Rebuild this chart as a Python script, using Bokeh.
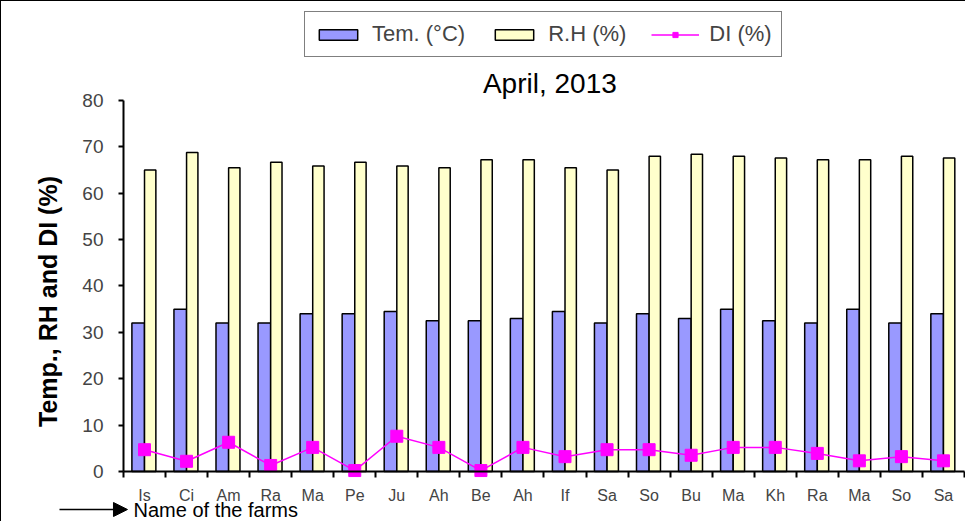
import math
from bokeh.plotting import figure
from bokeh.models import (FixedTicker, Legend, LegendItem, ColumnDataSource,
                          Arrow, NormalHead, Label, Range1d)
from bokeh.transform import dodge
from bokeh.embed import file_html
from bokeh.resources import INLINE

farms = ["Is", "Ci", "Am", "Ra", "Ma", "Pe", "Ju", "Ah", "Be", "Ah",
         "If", "Sa", "So", "Bu", "Ma", "Kh", "Ra", "Ma", "So", "Sa"]
temp = [32, 35, 32, 32, 34, 34, 34.5, 32.5, 32.5, 33,
        34.5, 32, 34, 33, 35, 32.5, 32, 35, 32, 34]
rh = [65.0, 68.8, 65.5, 66.7, 65.9, 66.7, 65.9, 65.5, 67.2, 67.2,
      65.5, 65.0, 68.0, 68.4, 68.0, 67.6, 67.2, 67.2, 68.0, 67.6]
di = [4.7, 2.2, 6.3, 1.3, 5.2, 0.2, 7.6, 5.2, 0.2, 5.2,
      3.2, 4.7, 4.7, 3.5, 5.2, 5.2, 3.9, 2.3, 3.2, 2.3]
y_ticks = [0, 10, 20, 30, 40, 50, 60, 70, 80]

pos = list(range(len(farms)))
src = ColumnDataSource(dict(x=pos, temp=temp, rh=rh, di=di))

FONT = "Liberation Sans"
W, H = 965, 521

p = figure(width=W, height=H, output_backend="svg", toolbar_location=None,
           x_range=Range1d(-3.401, 19.548), y_range=Range1d(-11.0, 101.35),
           min_border=0)
p.styles = {"border-left": "1px solid black", "border-top": "1px solid black"}

b1 = p.vbar(x=dodge("x", -0.15, range=p.x_range), top="temp", width=0.3, source=src,
            fill_color="#9999FF", line_color="black", line_width=1.5)
b2 = p.vbar(x=dodge("x", 0.135, range=p.x_range), top="rh", width=0.27, source=src,
            fill_color="#FFFFCC", line_color="black", line_width=1.5)
ln = p.line(x="x", y="di", source=src, line_color="#FF00FF", line_width=1.5)
sc = p.scatter(x="x", y="di", source=src, marker="square", size=12,
               fill_color="#FF00FF", line_color="#FF00FF")

p.xgrid.visible = False
p.ygrid.visible = False
p.outline_line_color = None

p.add_layout(Label(x=9.64, y=83.7, text="April, 2013", text_align="center",
                   text_baseline="alphabetic", text_font=FONT, text_font_size="28px",
                   text_color="black"))

legend = Legend(items=[LegendItem(label="Tem. (°C)", renderers=[b1]),
                       LegendItem(label="R.H (%)", renderers=[b2]),
                       LegendItem(label="DI (%)", renderers=[ln, sc])],
                orientation="horizontal", location=(303, H - 56), margin=0)
legend.label_text_font = FONT
legend.label_text_font_size = "22px"
legend.glyph_width = 48
legend.glyph_height = 13
legend.spacing = 25
legend.padding = 9
legend.label_standoff = 10
legend.border_line_color = "black"
legend.border_line_width = 1
legend.background_fill_alpha = 1
p.add_layout(legend)

xa = p.xaxis[0]
xa.fixed_location = 0
xa.bounds = (-0.5, len(farms) - 0.5)
xa.ticker = FixedTicker(ticks=pos, minor_ticks=[i - 0.5 for i in range(len(farms) + 1)])
xa.major_label_overrides = {i: f for i, f in enumerate(farms)}
xa.major_tick_out = 0
xa.major_tick_in = 0
xa.minor_tick_out = 6
xa.minor_tick_in = 0
xa.minor_tick_line_width = 2
xa.axis_line_width = 2
xa.major_label_standoff = 10
xa.major_label_text_font = FONT
xa.major_label_text_font_size = "16px"

ya = p.yaxis[0]
ya.fixed_location = -0.5
ya.ticker = FixedTicker(ticks=y_ticks)
ya.bounds = (0, 80)
ya.major_tick_out = 5
ya.major_tick_in = 0
ya.major_tick_line_width = 2
ya.minor_tick_line_color = None
ya.axis_line_width = 2
ya.major_label_text_font = FONT
ya.major_label_text_font_size = "19px"
ya.major_label_standoff = 15

p.add_layout(Label(x=-2.307, y=36.66, text="Temp., RH and DI (%)", angle=math.pi / 2,
                   text_align="center", text_baseline="middle", text_font=FONT,
                   text_font_style="bold", text_font_size="25px", text_color="black"))

p.add_layout(Arrow(x_start=-2.022, y_start=-8.2, x_end=-0.405, y_end=-8.2,
                   line_width=1.5, line_color="black",
                   end=NormalHead(size=14, fill_color="black", line_color="black")))
p.add_layout(Label(x=-0.262, y=-8.3, text="Name of the farms", text_baseline="middle",
                   text_font=FONT, text_font_size="20px", text_color="black"))

open("out.html", "w").write(file_html(p, INLINE))
